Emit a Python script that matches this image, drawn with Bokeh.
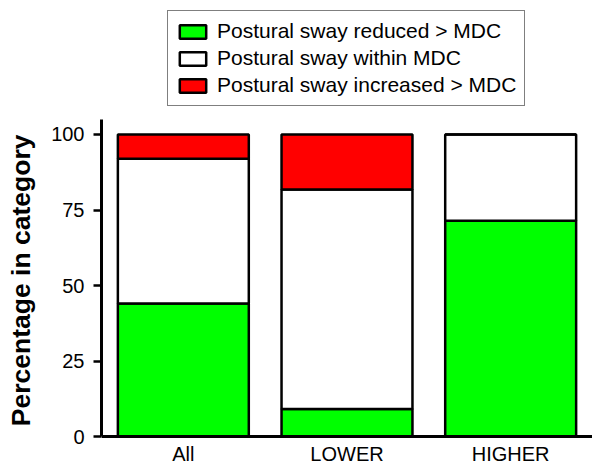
from bokeh.plotting import figure
from bokeh.models import (ColumnDataSource, FactorRange, Range1d, CategoricalAxis,
                          FixedTicker, Legend)
from bokeh.embed import file_html
from bokeh.resources import INLINE

categories = ["All", "LOWER", "HIGHER"]
reduced = [44.0, 9.1, 71.4]
within = [48.0, 72.7, 28.6]
increased = [8.0, 18.2, 0.0]
series_names = ["Postural sway reduced > MDC", "Postural sway within MDC",
                "Postural sway increased > MDC"]
y_ticks = [0, 25, 50, 75, 100]
y_title = "Percentage in category"

FONT = "Liberation Sans"

source = ColumnDataSource(dict(cat=categories, reduced=reduced, within=within,
                               increased=increased))

p = figure(width=592, height=464, output_backend="svg", toolbar_location=None,
           x_range=FactorRange(*categories), y_range=Range1d(-9.27, 144.37),
           x_axis_location=None, min_border_left=101, min_border_right=0,
           min_border_top=0, min_border_bottom=0)
p.outline_line_color = None
p.xgrid.visible = False
p.ygrid.visible = False
p.background_fill_color = "white"

rs = p.vbar_stack(["reduced", "within", "increased"], x="cat", width=0.8,
                  source=source, color=["#00FF00", "#FFFFFF", "#FF0000"],
                  line_color="black", line_width=2.5)

# y axis (title padded with no-break spaces so it centres on the 0-105 span)
ya = p.yaxis[0]
ya.ticker = FixedTicker(ticks=y_ticks)
ya.bounds = (0, 105)
ya.axis_label = y_title + "\u00a0" * 13
ya.axis_label_text_font = FONT
ya.axis_label_text_font_style = "bold"
ya.axis_label_text_font_size = "26.5px"
ya.axis_label_text_color = "black"
ya.axis_label_standoff = 12
ya.major_label_text_font = FONT
ya.major_label_text_font_size = "20px"
ya.major_label_text_color = "black"
ya.major_label_standoff = 9
ya.axis_line_width = 3
ya.major_tick_line_width = 2.5
ya.major_tick_out = 8
ya.major_tick_in = 0
ya.minor_tick_line_color = None

# x axis at y = 0
xa = CategoricalAxis(fixed_location=0)
xa.axis_line_width = 3
xa.major_tick_line_color = None
xa.major_tick_out = 0
xa.major_tick_in = 0
xa.major_label_text_font = FONT
xa.major_label_text_font_size = "20px"
xa.major_label_text_color = "black"
xa.major_label_standoff = 6
p.add_layout(xa, "below")

legend = Legend(items=[(series_names[i], [rs[i]]) for i in range(3)],
                location=(66, 358), orientation="vertical")
legend.label_text_font = FONT
legend.label_text_font_size = "21px"
legend.label_text_color = "black"
legend.glyph_width = 33
legend.glyph_height = 17
legend.label_standoff = 8
legend.spacing = 3
legend.padding = 8
legend.margin = 0
legend.border_line_color = "black"
legend.border_line_width = 1.5
legend.background_fill_alpha = 1
legend.label_height = 21
p.add_layout(legend, "center")

open("out.html", "w").write(file_html(p, INLINE))
